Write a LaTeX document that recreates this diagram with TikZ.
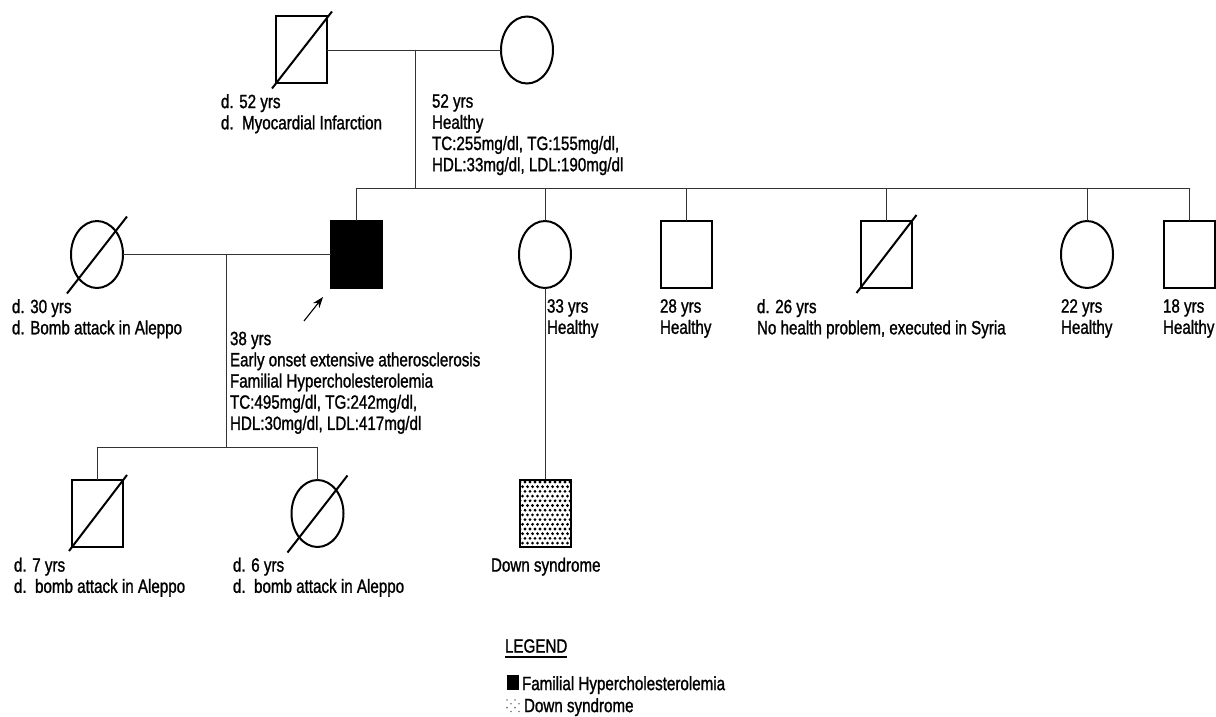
\documentclass[tikz,border=0pt]{standalone}
\usepackage{fontspec}
\setmainfont{Liberation Sans}[FakeStretch=0.79,FakeBold=1.2]
\usetikzlibrary{shapes.geometric,arrows.meta}
\begin{document}
\begin{tikzpicture}[x=1pt,y=-1pt,
  male/.style={draw,line width=2pt,rectangle,minimum width=51pt,minimum height=67pt,inner sep=0pt,outer sep=0pt},
  female/.style={draw,line width=2pt,ellipse,minimum width=52pt,minimum height=67pt,inner sep=0pt,outer sep=0pt},
  affected/.style={fill=black},
  link/.style={line width=0.9pt,draw=black!80},
  dead/.style={line width=2pt},
  lbl/.style={anchor=north west,inner sep=0pt,outer sep=0pt,align=left,font=\fontsize{19.2}{21.2}\selectfont},
]
\useasboundingbox (0,0) rectangle (1216,717);

% generation I
\node[male] (gf) at (301.5,50) {};
\node[female] (gm) at (527,50) {};
\draw[dead] ([shift={(-4,5)}]gf.south west) -- ([shift={(5,-5)}]gf.north east);
\draw[link] (gf) -- (gm);
\coordinate (m1) at (415,50);
\coordinate (sibL) at (356,188);
\coordinate (sibR) at (1189,188);
\draw[link] (m1) -- (m1 |- sibL);
\draw[link] (sibL) -- (sibR);

\node[lbl] (tgf) at (221,94.2) {d. 52 yrs\\d.\ \ Myocardial Infarction};
\node[lbl] (tgm) at (432,94.2) {52 yrs\\Healthy\\TC:255mg/dl, TG:155mg/dl,\\HDL:33mg/dl, LDL:190mg/dl};

% generation II
\node[female] (wife) at (97,254.5) {};
\node[male,affected] (pro) at (356,254.5) {};
\node[female] (sis33) at (545,254.5) {};
\node[male] (br28) at (686,254.5) {};
\node[male] (br26) at (886,254.5) {};
\node[female] (sis22) at (1087,254.5) {};
\node[male] (br18) at (1189,254.5) {};

\draw[dead] ([shift={(-30,39)}]wife.center) -- ([shift={(30,-38)}]wife.center);
\draw[dead] ([shift={(-4,5)}]br26.south west) -- ([shift={(5,-6)}]br26.north east);

\foreach \c in {pro,sis33,br28,br26,sis22,br18}
  \draw[link] (\c.north) -- (\c.north |- sibL);

\draw[link] (wife) -- (pro);
\coordinate (m2) at (226,254.5);
\coordinate (sib2L) at (97.5,447);
\coordinate (sib2R) at (317.5,447);
\draw[link] (m2) -- (m2 |- sib2L);
\draw[link] (sib2L) -- (sib2R);

\coordinate (arrS) at (304,321);
\coordinate (arrE) at (323,297);
\draw[line width=1.1pt,-{Stealth[length=11pt,width=8pt]}] (arrS) -- (arrE);

\node[lbl] (twife) at (12,299.2) {d. 30 yrs\\d. Bomb attack in Aleppo};
\node[lbl] (tpro) at (230,331.7) {38 yrs\\Early onset extensive atherosclerosis\\Familial Hypercholesterolemia\\TC:495mg/dl, TG:242mg/dl,\\HDL:30mg/dl, LDL:417mg/dl};
\node[lbl] (t33) at (547,299.2) {33 yrs\\Healthy};
\node[lbl] (t28) at (660,299.2) {28 yrs\\Healthy};
\node[lbl] (t26) at (757,299.2) {d. 26 yrs\\No health problem, executed in Syria};
\node[lbl] (t22) at (1061,299.2) {22 yrs\\Healthy};
\node[lbl] (t18) at (1163,299.2) {18 yrs\\Healthy};

% generation III
\node[male] (son) at (97.5,513.5) {};
\node[female] (dau) at (317.5,513.5) {};
\node[male,fill=white] (down) at (545,513.5) {};
\draw[dead] ([shift={(-3,4)}]son.south west) -- ([shift={(4,-5)}]son.north east);
\draw[dead] ([shift={(-30,39)}]dau.center) -- ([shift={(30,-38)}]dau.center);
\draw[link] (son.north) -- (son.north |- sib2L);
\draw[link] (dau.north) -- (dau.north |- sib2R);
\draw[link] (sis33.south) -- (down.north);

\begin{scope}
  \clip (down.south west) rectangle (down.north east);
  \foreach \j in {0,...,14}
    \foreach \i in {0,...,11}
      \fill ({520+\i*5-2.5*mod(\j,2)},{482+\j*4.7}) circle (1.55);
\end{scope}
\draw[line width=2pt] (down.south west) rectangle (down.north east);

\node[lbl] (tson) at (14,557.7) {d. 7 yrs\\d.\ \ bomb attack in Aleppo};
\node[lbl] (tdau) at (233,557.7) {d. 6 yrs\\d.\ \ bomb attack in Aleppo};
\node[lbl] (tdown) at (491,557.7) {Down syndrome};

% legend
\node[lbl] (leg) at (505,639.2) {LEGEND};
\draw[line width=1.5pt] ([yshift=-4]leg.south west) -- ([yshift=-4]leg.south east);
\node[fill=black,inner sep=0pt,minimum width=12pt,minimum height=15pt] (legfh) at (512.5,682.5) {};
\node[lbl] (tlegfh) at (522,676.2) {Familial Hypercholesterolemia};
\foreach \j in {0,...,3}
  \foreach \i in {0,1}
    \fill[black!55] ({507+4*mod(\j,2)+8*\i},{700+\j*3.8}) circle (0.9);
\node[lbl] (tlegds) at (524,698.2) {Down syndrome};
\end{tikzpicture}
\end{document}
